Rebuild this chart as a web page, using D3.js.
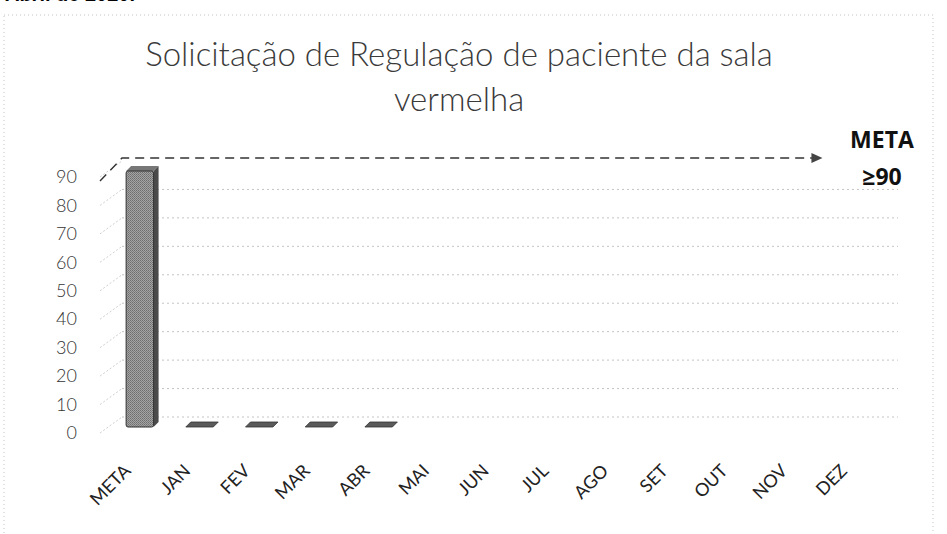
<!DOCTYPE html>
<html>
<head>
  <meta charset="utf-8">
  <style>
    body { margin: 0; background: #fff; }
    .title { font-family: Lato, "Open Sans", sans-serif; font-weight: 300; font-size: 33px; fill: #3a3a3a; }
    .tick text { font-family: Lato, sans-serif; font-weight: 300; fill: #333; }
    #x_axis .tick text { font-weight: normal; fill: #222; }
    .meta-label { font-family: "Open Sans", Lato, sans-serif; font-weight: bold; font-size: 23px; fill: #111; }
  </style>
  <title>Solicitação de Regulação de paciente da sala vermelha</title>
</head>
<body>
  <script src="https://cdn.jsdelivr.net/npm/d3@7"></script>
  <script>
    // data
    const categories = ["META", "JAN", "FEV", "MAR", "ABR", "MAI", "JUN", "JUL", "AGO", "SET", "OUT", "NOV", "DEZ"];
    const values = [90, 0, 0, 0, 0, null, null, null, null, null, null, null, null];
    const yTicks = [0, 10, 20, 30, 40, 50, 60, 70, 80, 90];
    const metaValue = 90;
    const metaText = ["META", "≥90"];
    const titleLines = ["Solicitação de Regulação de paciente da sala", "vermelha"];

    const W = 947, H = 534;
    // 3d depth offset of the back wall
    const DX = 22, DY = -16;

    const svg = d3.select("body").append("svg")
      .attr("width", W)
      .attr("height", H);

    // dithered gray fill like the scanned bar
    const defs = svg.append("defs");
    const pat = defs.append("pattern")
      .attr("id", "dither")
      .attr("width", 2).attr("height", 2)
      .attr("patternUnits", "userSpaceOnUse");
    pat.append("rect").attr("width", 2).attr("height", 2).attr("fill", "#a4a4a4");
    pat.append("rect").attr("width", 1).attr("height", 1).attr("fill", "#6e6e6e");
    pat.append("rect").attr("x", 1).attr("y", 1).attr("width", 1).attr("height", 1).attr("fill", "#7c7c7c");

    // cropped line of text above the chart (cut at the top edge in the source too)
    svg.append("text")
      .attr("x", 135).attr("y", 1)
      .attr("text-anchor", "end")
      .style("font-family", "Liberation Sans, sans-serif")
      .style("font-weight", "bold")
      .style("font-size", "20px")
      .text("Abril de 2020.");

    // chart frame (dotted)
    svg.append("rect")
      .attr("x", 4).attr("y", 15)
      .attr("width", 929).attr("height", 530)
      .attr("fill", "none")
      .attr("stroke", "#c4c4c4")
      .attr("stroke-dasharray", "1,3");

    // title
    svg.append("text")
      .attr("class", "title")
      .attr("text-anchor", "middle")
      .selectAll("tspan")
      .data(titleLines)
      .enter().append("tspan")
      .attr("x", 459)
      .attr("y", (d, i) => 66 + i * 45)
      .text(d => d);

    // scales (front plane)
    const x = d3.scaleBand().domain(categories).range([100, 876]);
    const y = d3.scaleLinear().domain([0, 90]).range([433, 177]);

    const grid = svg.append("g").attr("id", "grid");
    const x0 = x.range()[0], x1 = x.range()[1];

    // back wall gridlines
    grid.selectAll("line.h")
      .data(yTicks.filter(d => d !== metaValue))
      .enter().append("line")
      .attr("class", "h")
      .attr("x1", x0 + DX).attr("x2", x1 + DX)
      .attr("y1", d => y(d) + DY).attr("y2", d => y(d) + DY)
      .attr("stroke", "#c4c4c4")
      .attr("stroke-dasharray", "2,3");

    // side wall diagonals
    grid.selectAll("line.d")
      .data(yTicks)
      .enter().append("line")
      .attr("class", "d")
      .attr("x1", x0).attr("x2", x0 + DX)
      .attr("y1", d => y(d)).attr("y2", d => y(d) + DY)
      .attr("stroke", "#cfcfcf")
      .attr("stroke-dasharray", "2,2");

    // meta dashed line with arrow
    const yb = y(metaValue) + DY;
    const tipX = x("NOV") + x.bandwidth() / 2 + 36;
    svg.append("path")
      .attr("d", `M${x0},${y(metaValue) + 4}L${x0 + DX},${yb - 3}L${tipX - 8},${yb - 3}`)
      .attr("fill", "none")
      .attr("stroke", "#333")
      .attr("stroke-width", 1.4)
      .attr("stroke-dasharray", "9,6");
    svg.append("path")
      .attr("d", `M${tipX},${yb - 3}L${tipX - 11},${yb - 8}L${tipX - 11},${yb + 2}Z`)
      .attr("fill", "#444");

    svg.append("text")
      .attr("class", "meta-label")
      .attr("text-anchor", "middle")
      .selectAll("tspan")
      .data(metaText)
      .enter().append("tspan")
      .attr("x", 882)
      .attr("y", (d, i) => 148 + i * 37)
      .text(d => d);

    // bars (drawn at mid depth)
    const bw = x.bandwidth() * 0.46;
    const bdx = 5, bdy = -5;
    const barData = categories.map((c, i) => ({ cat: c, v: values[i] })).filter(d => d.v !== null);
    const bars = svg.append("g").attr("id", "bars");
    const bx = d => x(d.cat) + x.bandwidth() / 2 + DX / 2 - bw / 2 - 1;
    const by = v => y(v) + DY / 2 + 2;

    barData.forEach(d => {
      const left = bx(d), top = by(d.v), bottom = by(0);
      const g = bars.append("g");
      if (d.v > 0) {
        g.append("path")
          .attr("d", `M${left + bw},${top}L${left + bw + bdx},${top + bdy}L${left + bw + bdx},${bottom + bdy}L${left + bw},${bottom}Z`)
          .attr("fill", "#4a4a4a");
        g.append("path")
          .attr("d", `M${left},${top}L${left + bdx},${top + bdy}L${left + bw + bdx},${top + bdy}L${left + bw},${top}Z`)
          .attr("fill", "#777");
        g.append("rect")
          .attr("x", left).attr("y", top)
          .attr("width", bw).attr("height", bottom - top)
          .attr("rx", 2)
          .attr("fill", "url(#dither)")
          .attr("stroke", "#333")
          .attr("stroke-width", 1);
      } else {
        g.append("path")
          .attr("d", `M${left},${bottom}L${left + bdx},${bottom + bdy}L${left + bw + bdx},${bottom + bdy}L${left + bw},${bottom}Z`)
          .attr("fill", "#5a5a5a")
          .attr("stroke", "#333")
          .attr("stroke-width", 0.8);
      }
    });

    // y axis labels
    svg.append("g")
      .attr("id", "y_axis")
      .attr("transform", "translate(80,0)")
      .call(d3.axisLeft(y).tickValues(yTicks).tickSize(0))
      .call(g => g.select(".domain").remove())
      .selectAll("text")
      .style("font-size", "18px");

    // x axis labels, rotated
    svg.append("g")
      .attr("id", "x_axis")
      .attr("transform", "translate(0,472)")
      .call(d3.axisBottom(x).tickSize(0))
      .call(g => g.select(".domain").remove())
      .selectAll("text")
      .attr("x", 0).attr("y", 0).attr("dy", 0)
      .attr("text-anchor", "end")
      .attr("transform", "translate(2,0) rotate(-45)")
      .style("font-size", "18px");
  </script>
</body>
</html>
